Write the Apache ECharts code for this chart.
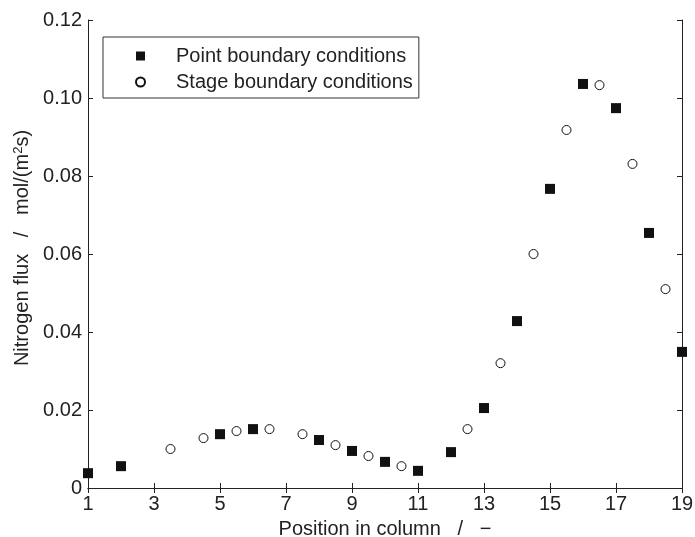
<!DOCTYPE html>
<html>
<head>
<meta charset="utf-8">
<title>Nitrogen flux</title>
<script src="https://cdn.jsdelivr.net/npm/echarts@6/dist/echarts.min.js"></script>
<style>
html,body{margin:0;padding:0;background:#fff;}
#main{width:695px;height:537px;}
</style>
</head>
<body>
<div id="main"></div>
<script>
// point boundary conditions (filled squares)
var pointX = [1, 2, 5, 6, 8, 9, 10, 11, 12, 13, 14, 15, 16, 17, 18, 19];
var pointY = [0.0038, 0.0056, 0.0138, 0.0151, 0.0123, 0.0095, 0.0067, 0.0044, 0.0092, 0.0205, 0.0428, 0.0767, 0.1036, 0.0974, 0.0654, 0.0349];
// stage boundary conditions (open circles)
var stageX = [3.5, 4.5, 5.5, 6.5, 7.5, 8.5, 9.5, 10.5, 12.5, 13.5, 14.5, 15.5, 16.5, 17.5, 18.5];
var stageY = [0.0100, 0.0128, 0.0146, 0.0151, 0.0138, 0.0110, 0.0082, 0.0056, 0.0151, 0.0320, 0.0600, 0.0918, 0.1033, 0.0831, 0.0510];
var seriesNames = ['Point boundary conditions', 'Stage boundary conditions'];

var fontName = '"Liberation Sans", Arial, sans-serif';
var ink = '#222';

function zip(xs, ys){
	var out = [];
	for(var i = 0; i < xs.length; i++){
		out.push([xs[i], ys[i]]);
	}
	return out;
}

function yLabel(v){
	if(v === 0) return '0';
	return v.toFixed(2);
}

var lineStyle = {color: ink, width: 1};

var myChart = echarts.init(document.getElementById('main'));
var option = {
	animation: false,
	backgroundColor: '#fff',
	textStyle: {fontFamily: fontName, color: ink},
	grid: {left: 88, right: 13, top: 20, bottom: 49, outerBoundsMode: 'none', containLabel: false},
	legend: {
		orient: 'vertical',
		left: 103,
		top: 37,
		padding: [9, 6, 6, 32],
		itemGap: 6,
		itemWidth: 9,
		itemHeight: 9,
		borderColor: '#333',
		borderWidth: 1,
		data: seriesNames,
		formatter: function(name){ return '{a|' + name + '}'; },
		textStyle: {
			rich: {
				a: {fontSize: 20, fontFamily: fontName, color: ink, padding: [0, 0, 0, 26], lineHeight: 23}
			}
		}
	},
	xAxis: [{
		type: 'value',
		min: 1,
		max: 19,
		interval: 2,
		name: 'Position in column   /   \u2212',
		nameLocation: 'middle',
		nameGap: 31,
		nameTextStyle: {fontSize: 20, color: ink, fontFamily: fontName},
		axisLine: {lineStyle: lineStyle},
		axisTick: {inside: true, length: 5, lineStyle: lineStyle},
		axisLabel: {fontSize: 20, color: ink, margin: 6},
		splitLine: {show: false}
	}, {
		type: 'value',
		position: 'top',
		min: 1,
		max: 19,
		interval: 2,
		axisLine: {show: true, lineStyle: lineStyle},
		axisTick: {inside: true, length: 5, lineStyle: lineStyle},
		axisLabel: {show: false},
		splitLine: {show: false}
	}],
	yAxis: [{
		type: 'value',
		min: 0,
		max: 0.12,
		interval: 0.02,
		name: '{a|Nitrogen flux   /   mol/(m}{s|2}{a|s)}',
		nameLocation: 'middle',
		nameGap: 51,
		nameTextStyle: {
			padding: [0, 0, 0, 12],
			rich: {
				a: {fontSize: 20, color: ink, fontFamily: fontName},
				s: {fontSize: 13, color: ink, fontFamily: fontName, verticalAlign: 'top', padding: [0, 0, 8, 0]}
			}
		},
		axisLine: {show: true, lineStyle: lineStyle},
		axisTick: {show: true, inside: true, length: 5, lineStyle: lineStyle},
		axisLabel: {fontSize: 20, color: ink, margin: 6, formatter: yLabel},
		splitLine: {show: false}
	}, {
		type: 'value',
		position: 'right',
		min: 0,
		max: 0.12,
		interval: 0.02,
		axisLine: {show: true, lineStyle: lineStyle},
		axisTick: {show: true, inside: true, length: 5, lineStyle: lineStyle},
		axisLabel: {show: false},
		splitLine: {show: false}
	}],
	series: [{
		name: seriesNames[0],
		type: 'scatter',
		symbol: 'rect',
		symbolSize: 10,
		itemStyle: {color: '#111', opacity: 1},
		data: zip(pointX, pointY)
	}, {
		name: seriesNames[1],
		type: 'scatter',
		symbol: 'circle',
		symbolSize: 9,
		itemStyle: {color: '#fff', borderColor: '#111', borderWidth: 1, opacity: 1},
		data: zip(stageX, stageY)
	}]
};
myChart.setOption(option);
</script>
</body>
</html>
